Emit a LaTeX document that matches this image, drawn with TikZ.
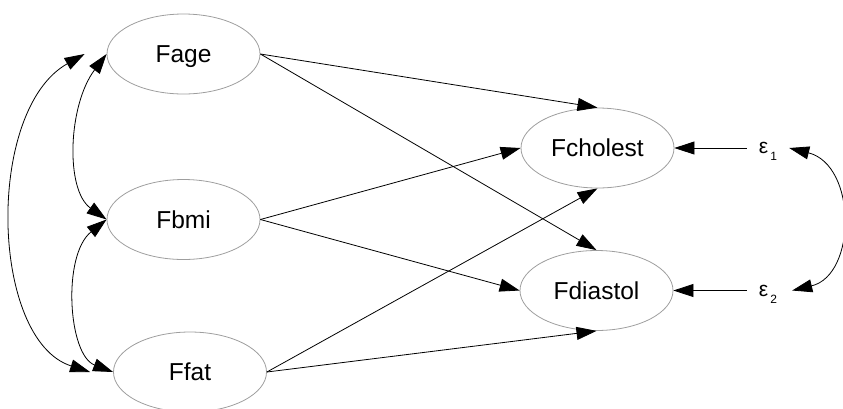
\documentclass[tikz,border=0pt]{standalone}
\usepackage{fontspec}
\setmainfont{Liberation Sans}
\usetikzlibrary{shapes.geometric,arrows.meta}
\begin{document}
\begin{tikzpicture}[x=1pt,y=-1pt,
  latent/.style={ellipse,draw=black!38,line width=0.8pt,minimum width=153pt,
    minimum height=80pt,inner sep=0pt,text height=17.5pt,text depth=0pt,
    font=\fontsize{24.5}{24.5}\selectfont},
  err/.style={inner sep=0pt,text height=11pt,text depth=0pt,
    font=\fontsize{21}{21}\selectfont},
  tip/.style={Triangle[length=20pt,width=13pt]},
  regpath/.style={line width=0.8pt,-{Triangle[length=20pt,width=13pt]}},
  cov/.style={line width=0.8pt,{Triangle[length=20pt,width=13pt]}-{Triangle[length=20pt,width=13pt]}}]

\useasboundingbox (0,0) rectangle (843,408);

% latent variables
\node[latent] (Fage)     at (183.5,54)    {Fage};
\node[latent] (Fbmi)     at (183.5,219.5) {Fbmi};
\node[latent] (Ffat)     at (190,372)     {Ffat};
\node[latent] (Fcholest) at (597.5,148)   {Fcholest};
\node[latent] (Fdiastol) at (596.5,290.5) {Fdiastol};

% error terms
\node[err] (e1) at (768,148)   {ε\hspace{2pt}\raisebox{-7pt}{\fontsize{12}{12}\selectfont 1}};
\node[err] (e2) at (768,290.5) {ε\hspace{2pt}\raisebox{-7pt}{\fontsize{12}{12}\selectfont 2}};

% structural paths
\draw[regpath] (Fage.east) -- (Fcholest.north);
\draw[regpath] (Fage.east) -- (Fdiastol.north);
\draw[regpath] (Fbmi.east) -- (Fcholest.west);
\draw[regpath] (Fbmi.east) -- (Fdiastol.west);
\draw[regpath] (Ffat.east) -- (Fcholest.south);
\draw[regpath] (Ffat.east) -- (Fdiastol.south);

% error paths
\draw[regpath,shorten <=12pt] (e1.west) -- (Fcholest.east);
\draw[regpath,shorten <=12pt] (e2.west) -- (Fdiastol.east);

% covariances among exogenous variables
\coordinate (ageo) at ([xshift=-22pt]Fage.west);
\coordinate (fato) at ([xshift=-23pt]Ffat.west);
\draw[cov] (Fage.west) .. controls (68,105) and (65,190) .. (Fbmi.west);
\draw[cov] (Fbmi.west) .. controls (62,255) and (68,355) .. (Ffat.west);
\draw[cov] (ageo) .. controls (-15,110) and (-10,340) .. (fato);

% covariance between the errors
\coordinate (e1o) at ([xshift=12pt]e1.east);
\coordinate (e2o) at ([xshift=15pt]e2.east);
\draw[cov] (e1o) .. controls (857,165) and (857,275) .. (e2o);
\end{tikzpicture}
\end{document}
